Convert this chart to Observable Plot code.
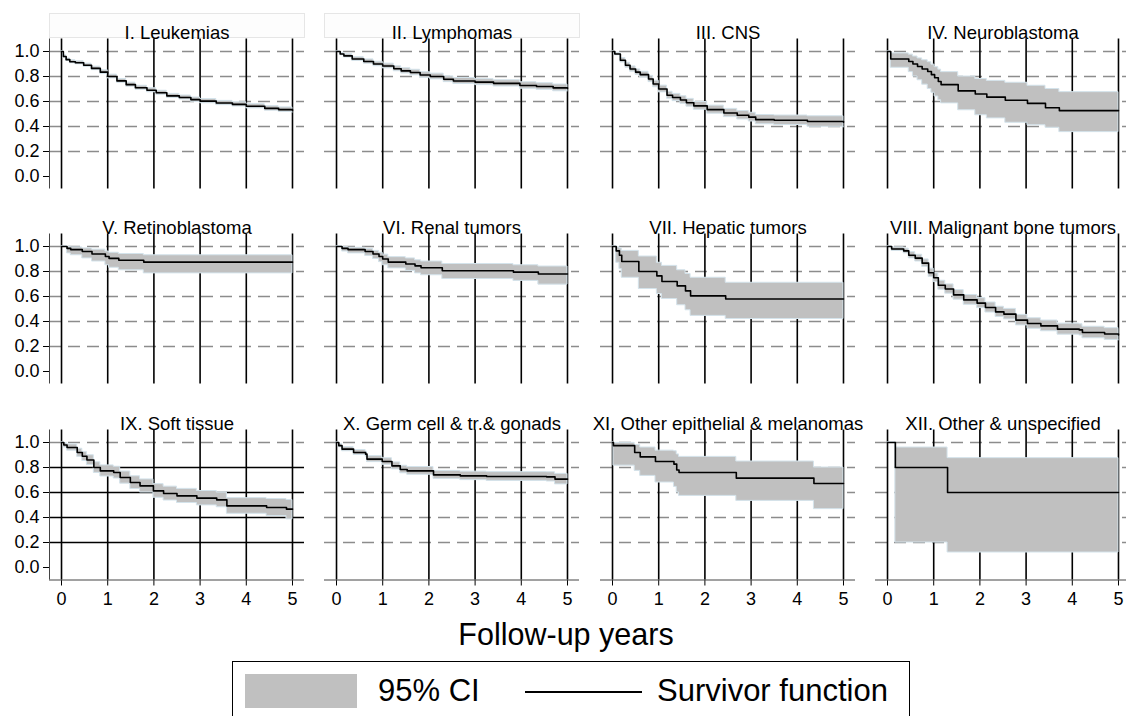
<!DOCTYPE html>
<html><head><meta charset="utf-8">
<script src="https://cdn.jsdelivr.net/npm/d3@7"></script>
<script src="https://cdn.jsdelivr.net/npm/@observablehq/plot@0.6"></script>
<style>
body{margin:0;background:#fff;overflow:hidden;font-family:"Liberation Sans",Arial,sans-serif;}
#root{position:relative;width:1126px;height:716px;overflow:hidden;background:#fff;}
.chart{position:absolute;}
.tbox{position:absolute;border:1px solid #e6e6e6;background:#fdfdfd;}
#xlabel{position:absolute;left:3px;width:1126px;top:615px;text-align:center;font-size:30.5px;line-height:38px;}
#legend{position:absolute;left:232px;top:661px;width:676px;height:80px;border:1px solid #000;}
#legend .sw{position:absolute;left:12px;top:12px;width:112px;height:34px;background:#c0c0c0;}
#legend .ln{position:absolute;left:292px;top:29px;width:117px;height:2px;background:#000;}
#legend .tx{position:absolute;top:10px;line-height:38px;font-size:31px;white-space:nowrap;}
</style></head>
<body><div id="root"></div>
<script>
// ---- data: [time (years), survivor function, lower 95% CI, upper 95% CI]
const xTicks = [0, 1, 2, 3, 4, 5];
const yTicks = [0, 0.2, 0.4, 0.6, 0.8, 1.0];
const gridY = [0.2, 0.4, 0.6, 0.8, 1.0];
const titles = ["I. Leukemias", "II. Lymphomas", "III. CNS", "IV. Neuroblastoma",
  "V. Retinoblastoma", "VI. Renal tumors", "VII. Hepatic tumors", "VIII. Malignant bone tumors",
  "IX. Soft tissue", "X. Germ cell & tr.& gonads", "XI. Other epithelial & melanomas", "XII. Other & unspecified"];

const leukemias = [[0,1,1,1],[0.04,0.96,0.95,0.97],[0.10,0.935,0.925,0.945],[0.18,0.918,0.906,0.93],[0.30,0.91,0.898,0.922],[0.48,0.89,0.877,0.903],[0.65,0.865,0.851,0.879],[0.84,0.835,0.82,0.85],[1.0,0.80,0.785,0.815],[1.2,0.765,0.75,0.78],[1.4,0.735,0.719,0.751],[1.6,0.71,0.694,0.726],[1.85,0.69,0.674,0.706],[2.05,0.67,0.654,0.686],[2.28,0.645,0.629,0.661],[2.55,0.632,0.616,0.648],[2.8,0.615,0.598,0.632],[3.0,0.603,0.586,0.62],[3.35,0.588,0.571,0.605],[3.7,0.577,0.56,0.594],[4.0,0.562,0.545,0.579],[4.4,0.545,0.527,0.563],[4.7,0.535,0.517,0.553],[5.0,0.527,0.509,0.545]];
const lymphomas = [[0,1,1,1],[0.08,0.98,0.97,0.99],[0.16,0.965,0.952,0.978],[0.34,0.94,0.925,0.955],[0.59,0.92,0.903,0.937],[0.8,0.90,0.882,0.918],[1.0,0.884,0.865,0.903],[1.24,0.862,0.842,0.882],[1.4,0.845,0.824,0.866],[1.6,0.832,0.81,0.854],[1.81,0.812,0.79,0.834],[2.03,0.80,0.777,0.823],[2.32,0.778,0.755,0.801],[2.53,0.764,0.74,0.788],[3.0,0.755,0.731,0.779],[3.4,0.745,0.72,0.77],[3.97,0.728,0.702,0.754],[4.33,0.72,0.694,0.746],[4.69,0.709,0.682,0.736],[5.0,0.705,0.678,0.732]];
const cns = [[0,1,1,1],[0.05,0.98,0.97,0.99],[0.17,0.93,0.912,0.948],[0.28,0.89,0.87,0.91],[0.38,0.86,0.839,0.881],[0.5,0.835,0.813,0.857],[0.6,0.815,0.792,0.838],[0.78,0.78,0.755,0.805],[0.88,0.74,0.714,0.766],[1.0,0.70,0.673,0.727],[1.18,0.65,0.622,0.678],[1.3,0.632,0.603,0.661],[1.47,0.612,0.582,0.642],[1.6,0.59,0.559,0.621],[1.76,0.565,0.534,0.596],[2.05,0.535,0.503,0.567],[2.41,0.508,0.475,0.541],[2.7,0.49,0.456,0.524],[2.95,0.475,0.44,0.51],[3.1,0.455,0.418,0.492],[3.5,0.45,0.412,0.488],[4.22,0.44,0.398,0.482],[5.0,0.435,0.39,0.48]];
const neuroblastoma = [[0,1,1,1],[0.07,0.94,0.87,0.985],[0.46,0.92,0.835,0.975],[0.55,0.90,0.80,0.96],[0.65,0.88,0.77,0.945],[0.75,0.86,0.735,0.93],[0.87,0.84,0.70,0.915],[0.95,0.815,0.67,0.895],[1.02,0.79,0.64,0.875],[1.1,0.76,0.61,0.855],[1.16,0.735,0.585,0.835],[1.53,0.685,0.53,0.80],[1.9,0.66,0.49,0.78],[2.15,0.635,0.465,0.765],[2.55,0.61,0.43,0.75],[3.03,0.585,0.41,0.726],[3.42,0.55,0.39,0.70],[3.72,0.527,0.355,0.675],[5.0,0.527,0.355,0.675]];
const retinoblastoma = [[0,1,1,1],[0.12,0.985,0.945,0.997],[0.2,0.975,0.93,0.993],[0.45,0.96,0.905,0.985],[0.66,0.94,0.88,0.975],[0.95,0.92,0.85,0.96],[1.03,0.905,0.83,0.95],[1.24,0.89,0.81,0.94],[1.78,0.875,0.785,0.93],[5,0.875,0.785,0.93]];
const renal = [[0,1,1,1],[0.12,0.985,0.96,0.995],[0.25,0.975,0.945,0.99],[0.62,0.96,0.925,0.98],[0.79,0.94,0.9,0.965],[0.92,0.92,0.875,0.95],[1.0,0.90,0.85,0.935],[1.12,0.875,0.825,0.915],[1.5,0.86,0.805,0.905],[1.7,0.845,0.785,0.89],[1.83,0.83,0.77,0.88],[2.29,0.806,0.74,0.86],[3.83,0.795,0.725,0.85],[4.37,0.78,0.695,0.84],[5,0.78,0.695,0.84]];
const hepatic = [[0,1,1,1],[0.08,0.965,0.87,0.995],[0.15,0.93,0.82,0.985],[0.2,0.88,0.75,0.965],[0.57,0.80,0.66,0.92],[0.96,0.765,0.62,0.87],[1.07,0.72,0.58,0.845],[1.4,0.685,0.53,0.81],[1.58,0.645,0.49,0.78],[1.69,0.605,0.445,0.75],[2.45,0.58,0.42,0.71],[5,0.58,0.42,0.71]];
const bone = [[0,1,1,1],[0.09,0.98,0.965,0.993],[0.35,0.965,0.945,0.983],[0.46,0.93,0.905,0.955],[0.6,0.907,0.88,0.934],[0.75,0.867,0.837,0.897],[0.89,0.79,0.757,0.823],[1.0,0.75,0.715,0.785],[1.1,0.69,0.654,0.726],[1.25,0.66,0.623,0.697],[1.43,0.613,0.575,0.651],[1.65,0.573,0.534,0.612],[1.94,0.547,0.507,0.587],[2.12,0.512,0.472,0.552],[2.34,0.477,0.436,0.518],[2.52,0.459,0.417,0.501],[2.78,0.411,0.369,0.453],[3.03,0.384,0.342,0.426],[3.32,0.365,0.322,0.408],[3.68,0.339,0.295,0.383],[4.15,0.333,0.288,0.378],[4.22,0.312,0.266,0.358],[4.7,0.30,0.253,0.347],[5.0,0.293,0.246,0.34]];
const softTissue = [[0,1,1,1],[0.05,0.98,0.96,0.995],[0.12,0.96,0.935,0.985],[0.34,0.92,0.885,0.95],[0.45,0.89,0.852,0.925],[0.55,0.86,0.82,0.898],[0.7,0.80,0.757,0.842],[0.84,0.773,0.728,0.817],[1.13,0.76,0.712,0.806],[1.27,0.72,0.671,0.768],[1.49,0.68,0.628,0.73],[1.7,0.653,0.60,0.705],[1.99,0.613,0.558,0.667],[2.21,0.592,0.536,0.647],[2.5,0.573,0.516,0.629],[2.93,0.555,0.497,0.612],[3.36,0.541,0.482,0.60],[3.58,0.493,0.43,0.555],[4.44,0.48,0.412,0.548],[4.87,0.467,0.385,0.54],[5,0.467,0.385,0.54]];
const germCell = [[0,1,1,1],[0.05,0.975,0.962,0.988],[0.12,0.947,0.93,0.964],[0.37,0.92,0.9,0.94],[0.63,0.907,0.886,0.928],[0.66,0.867,0.843,0.891],[0.99,0.848,0.822,0.874],[1.2,0.813,0.785,0.841],[1.38,0.784,0.754,0.814],[1.53,0.773,0.742,0.804],[2.1,0.741,0.709,0.773],[2.68,0.733,0.699,0.767],[3.25,0.728,0.693,0.763],[4.55,0.725,0.688,0.762],[4.73,0.707,0.665,0.749],[5,0.707,0.665,0.749]];
const epithelial = [[0,1,1,1],[0.02,0.975,0.815,0.997],[0.48,0.92,0.773,0.98],[0.6,0.885,0.733,0.96],[0.93,0.848,0.68,0.935],[1.33,0.827,0.645,0.93],[1.39,0.78,0.60,0.905],[1.44,0.76,0.573,0.885],[2.68,0.715,0.533,0.848],[4.36,0.672,0.467,0.80],[5,0.672,0.467,0.80]];
const otherUnspec = [[0,1,1,1],[0.17,0.8,0.2,0.96],[1.3,0.6,0.12,0.875],[5,0.6,0.12,0.875]];

const panels = [leukemias, lymphomas, cns, neuroblastoma, retinoblastoma, renal, hepatic, bone, softTissue, germCell, epithelial, otherUnspec];

// ---- layout
const xDomain = [-0.26, 5.26], yDomain = [-0.1, 1.1];
const root = document.getElementById("root");

panels.forEach((rows, i) => {
  const col = i % 4, row = Math.floor(i / 4);
  const data = rows.map(([t, s, lo, hi]) => ({t, s, lo, hi}));
  const isLeft = col === 0, isBottom = row === 2;
  const mb = isBottom ? 48 : 4;
  const marks = [];
  if (i === 8) {
    marks.push(Plot.ruleY(gridY.slice(0, 4), {stroke: "#000", strokeWidth: 1.6}));
    marks.push(Plot.ruleY(gridY.slice(4), {stroke: "#8c8c8c", strokeWidth: 1.4, strokeDasharray: "12,7"}));
  } else {
    marks.push(Plot.ruleY(gridY, {stroke: "#8c8c8c", strokeWidth: 1.4, strokeDasharray: "12,7"}));
  }
  marks.push(Plot.ruleX(xTicks, {stroke: "#000", strokeWidth: 1.6}));
  if (isLeft) marks.push(Plot.ruleX([xDomain[0]], {stroke: "#444", strokeWidth: 1}));
  if (isBottom) marks.push(Plot.ruleY([yDomain[0]], {stroke: "#444", strokeWidth: 1}));
  marks.push(Plot.areaY(data, {x: "t", y1: "lo", y2: "hi", curve: "step-after", fill: "#c0c0c0", stroke: "#d4e3eb", strokeWidth: 1}));
  marks.push(Plot.lineY(data, {x: "t", y: "s", curve: "step-after", stroke: "#000", strokeWidth: 1.6}));
  marks.push(Plot.text([titles[i]], {frameAnchor: "top", dy: -13.5, fontSize: 18.5, fill: "#000"}));

  const chart = Plot.plot({
    width: 304, height: 37.5 + 150 + mb,
    marginLeft: 49, marginRight: 0, marginTop: 37.5, marginBottom: mb,
    style: {background: "transparent", fontFamily: "'Liberation Sans', Arial, sans-serif", fontSize: "18px", color: "#000", overflow: "visible"},
    x: {domain: xDomain, ticks: xTicks, tickFormat: "d", tickSize: 6, tickPadding: 6, label: null, axis: isBottom ? "bottom" : null},
    y: {domain: yDomain, ticks: yTicks, tickFormat: ".1f", tickSize: 6, tickPadding: 4, label: null, axis: isLeft ? "left" : null},
    marks
  });
  const left = 275.4 * col, top = 0.7 + 195.5 * row;
  if (i < 2) {
    const b = document.createElement("div");
    b.className = "tbox";
    b.style.left = (left + 49) + "px"; b.style.top = (top + 12) + "px";
    b.style.width = "254px"; b.style.height = "23px";
    root.appendChild(b);
  }
  chart.classList.add("chart");
  chart.style.left = left + "px";
  chart.style.top = top + "px";
  root.appendChild(chart);
});

const xl = document.createElement("div");
xl.id = "xlabel"; xl.textContent = "Follow-up years";
root.appendChild(xl);
const lg = document.createElement("div");
lg.id = "legend";
lg.innerHTML = '<div class="sw"></div><div class="tx" style="left:145px">95% CI</div><div class="ln"></div><div class="tx" style="left:424px">Survivor function</div>';
root.appendChild(lg);
</script></body></html>
